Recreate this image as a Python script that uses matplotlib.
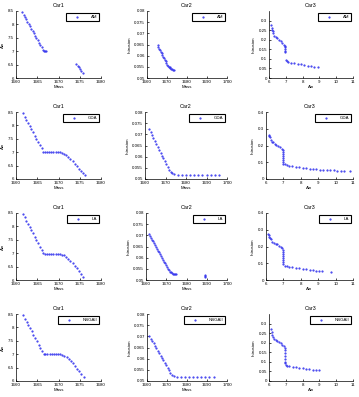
import matplotlib
matplotlib.use("Agg")
import matplotlib.pyplot as plt
from matplotlib.ticker import FormatStrFormatter

plt.rcParams['font.family'] = ['Liberation Sans', 'DejaVu Sans']
plt.rcParams['font.size'] = 3.2

methods = ["AM", "GDA", "LA", "NSGAII"]

# ---- AM ----
am_car1_mass = [1661.5, 1661.8, 1662.1, 1662.4, 1662.7, 1663.0, 1663.3, 1663.6, 1663.9, 1664.2,
                1664.5, 1664.8, 1665.1, 1665.4, 1665.7, 1666.0, 1666.3, 1666.5, 1666.8, 1667.1,
                1674.2, 1674.5, 1674.8, 1675.1, 1675.4, 1675.7]
am_car1_ain = [8.45, 8.36, 8.28, 8.19, 8.10, 8.01, 7.93, 7.84, 7.75, 7.67,
               7.58, 7.49, 7.40, 7.32, 7.23, 7.14, 7.06, 7.00, 6.99, 6.99,
               6.52, 6.46, 6.40, 6.33, 6.26, 6.20]
am_car2_mass = [1665.3, 1665.7, 1666.1, 1666.5, 1666.9, 1667.3, 1667.7, 1668.1, 1668.5, 1668.9,
                1669.3, 1669.7, 1670.1, 1670.5, 1670.9, 1671.3, 1671.7, 1672.1, 1672.5, 1672.9, 1673.4]
am_car2_intr = [0.0646, 0.0639, 0.0632, 0.0625, 0.0617, 0.0610, 0.0603, 0.0596, 0.0589, 0.0581,
                0.0574, 0.0567, 0.0560, 0.0555, 0.0551, 0.0548, 0.0545, 0.0542, 0.0540, 0.0537, 0.0535]
am_car3_ain = [6.10, 6.15, 6.20, 6.25, 6.25, 6.30, 6.40, 6.50, 6.60, 6.70, 6.80, 6.90, 6.93,
               6.95, 6.95, 6.95, 6.95, 7.00, 7.05, 7.15, 7.30, 7.50, 7.70, 7.90, 8.10, 8.30,
               8.50, 8.70, 8.90]
am_car3_intr = [0.275, 0.262, 0.250, 0.243, 0.237, 0.222, 0.215, 0.208, 0.200, 0.193, 0.185, 0.175, 0.168,
                0.160, 0.150, 0.140, 0.135, 0.094, 0.088, 0.083, 0.080, 0.077, 0.074, 0.071, 0.068, 0.065,
                0.062, 0.059, 0.057]

# ---- GDA ----
gda_car1_mass = [1661.6, 1662.0, 1662.4, 1662.8, 1663.2, 1663.6, 1664.0, 1664.4, 1664.8, 1665.2,
                 1665.6, 1666.0, 1666.4, 1666.8, 1667.3, 1667.8, 1668.3, 1668.8, 1669.3, 1669.8,
                 1670.3, 1670.8, 1671.3, 1671.8, 1672.3, 1672.8, 1673.3, 1673.8, 1674.3, 1674.8,
                 1675.3, 1675.8, 1676.2]
gda_car1_ain = [8.45, 8.33, 8.21, 8.10, 7.98, 7.86, 7.74, 7.62, 7.50, 7.38,
                7.26, 7.14, 7.02, 7.00, 7.00, 7.00, 7.00, 7.00, 7.00, 6.99,
                6.99, 6.98, 6.95, 6.90, 6.83, 6.75, 6.66, 6.57, 6.48, 6.39,
                6.30, 6.21, 6.15]
gda_car2_mass = [1662.0, 1662.7, 1663.4, 1664.1, 1664.8, 1665.5, 1666.2, 1666.9, 1667.6, 1668.3,
                 1669.0, 1669.7, 1670.4, 1671.1, 1671.8, 1672.5, 1673.2, 1674, 1676, 1678,
                 1680, 1682, 1684, 1686, 1688, 1690, 1692, 1694, 1696]
gda_car2_intr = [0.0722, 0.0709, 0.0696, 0.0683, 0.0670, 0.0657, 0.0644, 0.0631, 0.0618, 0.0605,
                 0.0592, 0.0579, 0.0566, 0.0553, 0.0541, 0.0532, 0.0526, 0.0521, 0.0520, 0.0520,
                 0.0520, 0.0520, 0.0520, 0.0520, 0.0520, 0.0520, 0.0520, 0.0520, 0.0520]
gda_car3_ain = [6.15, 6.20, 6.25, 6.30, 6.35, 6.40, 6.50, 6.60, 6.70, 6.80, 6.90, 6.97, 6.97,
                6.97, 6.97, 6.97, 6.97, 6.97, 7.00, 7.10, 7.20, 7.30, 7.50, 7.70, 7.90, 8.10,
                8.30, 8.50, 8.70, 8.90, 9.10, 9.30, 9.50, 9.70, 9.90, 10.1, 10.3, 10.5, 10.8]
gda_car3_intr = [0.263, 0.258, 0.250, 0.235, 0.222, 0.218, 0.210, 0.205, 0.198, 0.190, 0.180, 0.172, 0.160,
                 0.148, 0.136, 0.124, 0.112, 0.100, 0.092, 0.087, 0.083, 0.080, 0.077, 0.073, 0.070, 0.067,
                 0.064, 0.062, 0.060, 0.058, 0.056, 0.055, 0.054, 0.053, 0.051, 0.050, 0.049, 0.048, 0.046]

# ---- LA ----
la_car1_mass = [1661.6, 1662.0, 1662.4, 1662.8, 1663.2, 1663.6, 1664.0, 1664.4, 1664.8, 1665.2,
                1665.6, 1666.0, 1666.4, 1666.8, 1667.3, 1667.8, 1668.3, 1668.8, 1669.3, 1669.8,
                1670.3, 1670.8, 1671.3, 1671.8, 1672.3, 1672.8, 1673.3, 1673.8, 1674.3, 1674.8,
                1675.3, 1675.8]
la_car1_ain = [8.46, 8.34, 8.22, 8.10, 7.98, 7.86, 7.74, 7.62, 7.49, 7.37,
               7.25, 7.12, 6.99, 6.97, 6.97, 6.97, 6.97, 6.97, 6.97, 6.97,
               6.96, 6.95, 6.92, 6.86, 6.78, 6.70, 6.62, 6.53, 6.43, 6.33,
               6.22, 6.12]
la_car2_mass = [1661.3, 1661.8, 1662.3, 1662.8, 1663.3, 1663.8, 1664.3, 1664.8, 1665.3, 1665.8,
                1666.3, 1666.8, 1667.3, 1667.8, 1668.3, 1668.8, 1669.3, 1669.8, 1670.3, 1670.8,
                1671.3, 1671.8, 1672.3, 1672.8, 1673.3, 1673.8, 1674.3, 1674.9, 1689.0, 1689.0, 1689.0]
la_car2_intr = [0.0706, 0.0699, 0.0690, 0.0681, 0.0673, 0.0665, 0.0657, 0.0648, 0.0640, 0.0632,
                0.0624, 0.0615, 0.0607, 0.0599, 0.0591, 0.0582, 0.0574, 0.0566, 0.0558, 0.0551,
                0.0544, 0.0538, 0.0534, 0.0531, 0.0529, 0.0527, 0.0526, 0.0525, 0.0515, 0.0518, 0.0521]
la_car3_ain = [6.11, 6.15, 6.20, 6.25, 6.30, 6.34, 6.45, 6.55, 6.63, 6.75, 6.85, 6.91, 6.95,
               6.95, 6.95, 6.95, 6.95, 6.95, 6.95, 7.00, 7.10, 7.20, 7.30, 7.50, 7.70, 7.90,
               8.10, 8.30, 8.50, 8.70, 8.90, 9.05, 9.20, 9.75]
la_car3_intr = [0.277, 0.268, 0.258, 0.250, 0.243, 0.229, 0.222, 0.217, 0.213, 0.203, 0.195, 0.189, 0.177,
                0.165, 0.153, 0.141, 0.129, 0.117, 0.105, 0.096, 0.086, 0.083, 0.080, 0.077, 0.074, 0.071,
                0.068, 0.065, 0.062, 0.059, 0.056, 0.054, 0.052, 0.050]

# ---- NSGAII ----
nsga_car1_mass = [1661.7, 1662.1, 1662.5, 1662.9, 1663.3, 1663.7, 1664.1, 1664.5, 1664.9, 1665.3,
                  1665.7, 1666.1, 1666.5, 1666.9, 1667.4, 1667.9, 1668.4, 1668.9, 1669.4, 1669.9,
                  1670.4, 1670.9, 1671.4, 1671.9, 1672.4, 1672.9, 1673.4, 1673.9, 1674.4, 1674.9,
                  1675.4, 1676.0]
nsga_car1_ain = [8.45, 8.33, 8.21, 8.09, 7.97, 7.85, 7.73, 7.61, 7.48, 7.36,
                 7.24, 7.12, 7.00, 7.00, 7.00, 7.00, 7.00, 7.00, 7.00, 7.00,
                 6.99, 6.98, 6.95, 6.90, 6.83, 6.75, 6.66, 6.56, 6.46, 6.36,
                 6.26, 6.15]
nsga_car2_mass = [1661.2, 1661.9, 1662.6, 1663.3, 1664.0, 1664.7, 1665.4, 1666.1, 1666.8, 1667.5,
                  1668.2, 1668.9, 1669.6, 1670.3, 1671.0, 1671.7, 1672.4, 1673.5, 1675, 1677,
                  1679, 1681, 1683, 1685, 1687, 1689, 1691, 1693.5]
nsga_car2_intr = [0.0700, 0.0689, 0.0678, 0.0668, 0.0657, 0.0646, 0.0635, 0.0624, 0.0614, 0.0603,
                  0.0592, 0.0581, 0.0570, 0.0560, 0.0549, 0.0538, 0.0528, 0.0521, 0.0520, 0.0520,
                  0.0520, 0.0520, 0.0520, 0.0520, 0.0520, 0.0520, 0.0520, 0.0520]
nsga_car3_ain = [6.10, 6.15, 6.20, 6.25, 6.30, 6.40, 6.50, 6.60, 6.70, 6.80, 6.90, 6.95, 6.95,
                 6.95, 6.95, 6.95, 6.95, 6.95, 7.00, 7.10, 7.20, 7.40, 7.60, 7.80, 8.00, 8.20,
                 8.40, 8.60, 8.80, 9.00]
nsga_car3_intr = [0.270, 0.255, 0.240, 0.228, 0.220, 0.215, 0.208, 0.202, 0.196, 0.190, 0.182, 0.175, 0.160,
                  0.145, 0.130, 0.115, 0.100, 0.093, 0.085, 0.080, 0.078, 0.075, 0.072, 0.069, 0.067, 0.064,
                  0.062, 0.060, 0.058, 0.055]

rows = [
    [(am_car1_mass, am_car1_ain), (am_car2_mass, am_car2_intr), (am_car3_ain, am_car3_intr)],
    [(gda_car1_mass, gda_car1_ain), (gda_car2_mass, gda_car2_intr), (gda_car3_ain, gda_car3_intr)],
    [(la_car1_mass, la_car1_ain), (la_car2_mass, la_car2_intr), (la_car3_ain, la_car3_intr)],
    [(nsga_car1_mass, nsga_car1_ain), (nsga_car2_mass, nsga_car2_intr), (nsga_car3_ain, nsga_car3_intr)],
]

W, H = 359, 397
fig = plt.figure(figsize=(W / 100, H / 100), dpi=100)

row_tops = [11, 112, 213, 314]
ax_h = 67
col_left = [[16, 147, 269], [16, 145, 266], [16, 146, 266], [16, 147, 269]]
col_right = [101, 227, 353]

for r, method in enumerate(methods):
    for c in range(3):
        x0 = col_left[r][c]
        ax = fig.add_axes([x0 / W, 1 - (row_tops[r] + ax_h) / H,
                           (col_right[c] - x0) / W, ax_h / H])
        xs, ys = rows[r][c]
        ax.plot(xs, ys, '.', color='#3333ee', markersize=1.1, label=method)
        ax.set_title("Car%d" % (c + 1), pad=3)
        if c == 0:
            ax.set_xlim(1660, 1680)
            ax.set_xticks([1660, 1665, 1670, 1675, 1680])
            ax.set_ylim(6, 8.5)
            ax.set_yticks([6, 6.5, 7, 7.5, 8, 8.5])
            ax.set_xlabel("Mass", labelpad=1)
            ax.set_ylabel("Ain", labelpad=2)
        elif c == 1:
            ax.set_xlim(1660, 1700)
            ax.set_xticks([1660, 1670, 1680, 1690, 1700])
            ax.set_ylim(0.05, 0.08)
            ax.set_yticks([0.05, 0.055, 0.06, 0.065, 0.07, 0.075, 0.08])
            ax.set_xlabel("Mass", labelpad=1)
            ax.set_ylabel("Intrusion", labelpad=2)
        else:
            ax.set_xlim(6, 11)
            ax.set_xticks([6, 7, 8, 9, 10, 11])
            if r in (1, 2):
                ax.set_ylim(0, 0.4)
                ax.set_yticks([0, 0.1, 0.2, 0.3, 0.4])
            else:
                ax.set_ylim(0, 0.35)
                ax.set_yticks([0, 0.05, 0.1, 0.15, 0.2, 0.25, 0.3])
            ax.set_xlabel("Ain", labelpad=1)
            ax.set_ylabel("Intrusion", labelpad=2)
        ax.xaxis.set_major_formatter(FormatStrFormatter('%g'))
        ax.yaxis.set_major_formatter(FormatStrFormatter('%g'))
        for s in ['top', 'right']:
            ax.spines[s].set_visible(False)
        for s in ['left', 'bottom']:
            ax.spines[s].set_linewidth(0.5)
        ax.tick_params(direction='in', length=1.5, width=0.5, pad=1.5)
        leg = ax.legend(loc='upper right', numpoints=1, handlelength=4, borderpad=0.5,
                        handletextpad=1.0, borderaxespad=0.4, fancybox=False,
                        framealpha=1, markerscale=1.0)
        leg.get_frame().set_edgecolor('black')
        leg.get_frame().set_linewidth(0.8)

fig.savefig("out.png", dpi=100)
